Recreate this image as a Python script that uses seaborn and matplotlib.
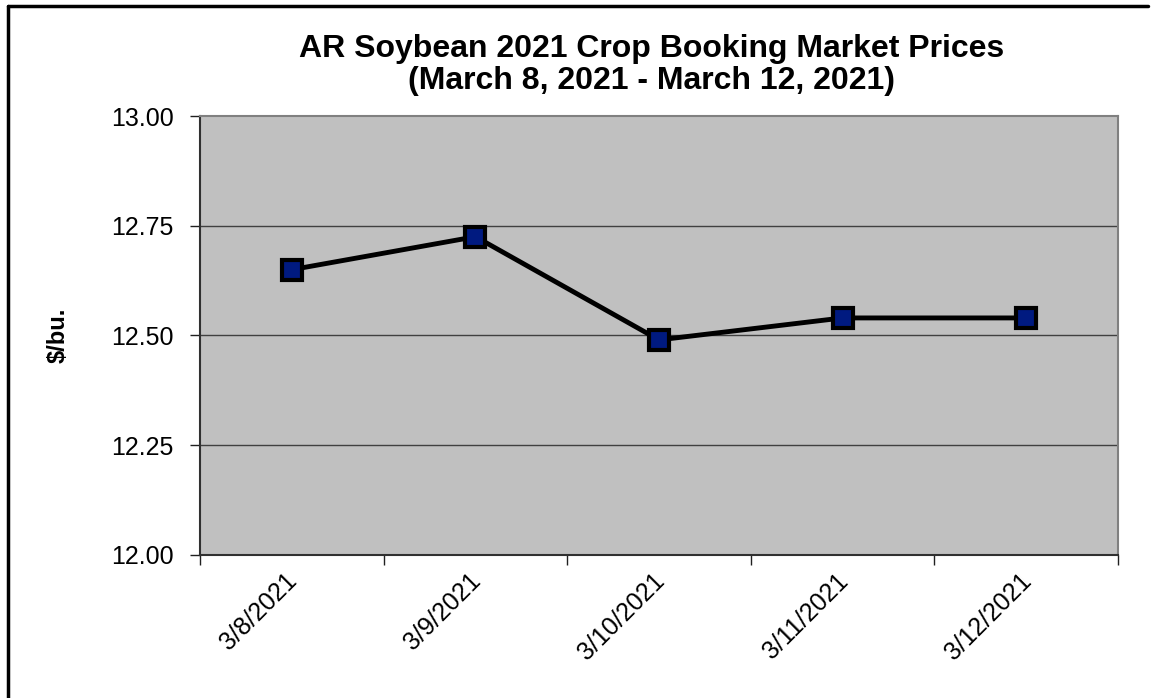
import numpy as np
import pandas as pd
import seaborn as sns
import matplotlib.pyplot as plt
from matplotlib.lines import Line2D
from matplotlib.transforms import ScaledTranslation

dates = ["3/8/2021", "3/9/2021", "3/10/2021", "3/11/2021", "3/12/2021"]
prices = [12.65, 12.725, 12.49, 12.54, 12.54]
y_ticks = [12.00, 12.25, 12.50, 12.75, 13.00]

sns.set_theme(style="white")
plt.rcParams['font.family'] = ['Liberation Sans', 'DejaVu Sans']

df = pd.DataFrame({"pos": np.arange(len(dates)), "price": prices})

fig = plt.figure(figsize=(11.53, 6.98), dpi=100)
ax = fig.add_axes([0.1735, 0.2049, 0.7961, 0.6289])
ax.set_facecolor("#c0c0c0")

# grid lines
for v in y_ticks[1:-1]:
    ax.axhline(v, color="#404040", lw=1, zorder=1)

sns.lineplot(x="pos", y="price", data=df, ax=ax, color="black", lw=3.5,
             marker="s", markersize=15, markerfacecolor="#001a80",
             markeredgecolor="black", markeredgewidth=3, zorder=3)
for l in ax.lines:
    l.set_solid_joinstyle("round")
    l.set_markeredgewidth(3)

ax.set_xlim(-0.5, len(dates) - 0.5)
ax.set_ylim(12.0, 13.0)
ax.set_yticks(y_ticks)
ax.set_yticklabels(["%.2f" % v for v in y_ticks], fontsize=18, color="black")
ax.set_xticks(np.arange(-0.5, len(dates), 1.0))
ax.set_xticklabels([])
ax.set_xticks(np.arange(len(dates)), minor=True)
ax.set_xticklabels(dates, minor=True, rotation=45, ha="right",
                   rotation_mode="anchor", fontsize=18, color="black")
ax.tick_params(axis="x", which="minor", length=0, pad=10)
ax.tick_params(axis="x", which="major", length=7, width=1, color="#202020",
               direction="out", bottom=True)
ax.tick_params(axis="y", length=7, width=1, color="#202020",
               direction="out", left=True, pad=12)
offset = ScaledTranslation(-7 / 100, 0, fig.dpi_scale_trans)
for lab in ax.get_xticklabels(minor=True):
    lab.set_transform(lab.get_transform() + offset)
ax.set_xlabel("")
ax.set_ylabel("$/bu.", fontsize=17, fontweight="bold", labelpad=30, color="black")

ax.spines["left"].set_color("#303030")
ax.spines["bottom"].set_color("#303030")
ax.spines["top"].set_color("#808080")
ax.spines["right"].set_color("#808080")
for s in ax.spines.values():
    s.set_linewidth(1.5)

fig.text(0.565, 0.907, "AR Soybean 2021 Crop Booking Market Prices\n(March 8, 2021 - March 12, 2021)",
         ha="center", va="center", fontsize=23, fontweight="bold", linespacing=1.1,
         color="black")

# figure frame (left and top edges)
fig.add_artist(Line2D([0.0066, 0.0066], [0.0, 0.9914], color="black", lw=2.5))
fig.add_artist(Line2D([0.0066, 0.9957], [0.9914, 0.9914], color="black", lw=2.5))

fig.savefig("out.png", dpi=100)
